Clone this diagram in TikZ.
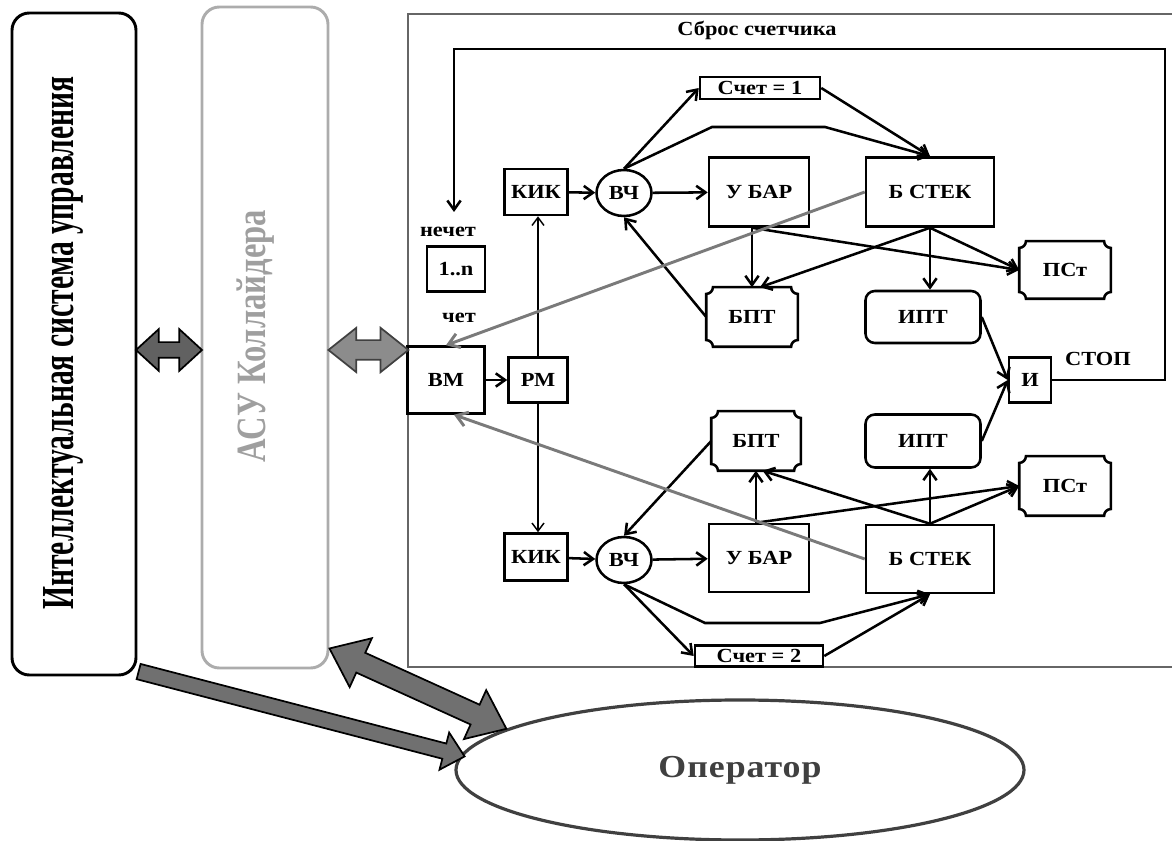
\documentclass[tikz,border=0pt]{standalone}
\usepackage{fontspec}
\setmainfont{Liberation Serif}[FakeStretch=1.12]
\usetikzlibrary{arrows.meta,shapes.geometric,shapes.arrows,calc}

% Blocs a coins creux
\newcommand\plaquebox[1]{%
  \draw[line width=1.9pt] ([xshift=5pt]#1.north west) -- ([xshift=-5pt]#1.north east)
    arc[start angle=180, end angle=270, radius=5pt] -- ([yshift=5pt]#1.south east)
    arc[start angle=90, end angle=180, radius=5pt] -- ([xshift=5pt]#1.south west)
    arc[start angle=0, end angle=90, radius=5pt] -- ([yshift=-5pt]#1.north west)
    arc[start angle=270, end angle=360, radius=5pt] -- cycle;}

\tikzset{
  bloc/.style={draw, line width=1.9pt, inner sep=0pt, font=\bfseries\fontsize{15}{15}\selectfont},
  lbl/.style={inner sep=0pt, font=\bfseries\fontsize{15}{15}\selectfont},
  fl/.style={line width=1.9pt, -{Straight Barb[length=7pt,width=10pt]}},
  flf/.style={line width=1.1pt, -{Straight Barb[length=6pt,width=9pt]}},
  flg/.style={draw=black!52, line width=2.2pt, -{Straight Barb[length=8pt,width=11pt]}},
  dfl/.style={double arrow, draw, line width=1.3pt, inner xsep=0pt},
  sfl/.style={single arrow, draw, line width=1.3pt, inner xsep=0pt, fill=black!56}
}

\begin{document}
\begin{tikzpicture}[x=0.75pt, y=-0.75pt]
		\useasboundingbox (0,0) rectangle (1172,841);

		% Systemes
		\node[draw, line width=2.2pt, rounded corners=13pt, minimum width=93pt, minimum height=496.5pt] at (74,344) (isu) {};
		\node[rotate=90, inner sep=0pt, font=\bfseries] at (63,343) (isuT) {\resizebox{399.75pt}{22.5pt}{Интеллектуальная система управления}};
		\node[draw=gray!65, line width=2.2pt, rounded corners=13pt, minimum width=94.5pt, minimum height=495.75pt] at (265,337.5) (asu) {};
		\node[rotate=90, inner sep=0pt, text=gray!75, font=\bfseries] at (256,336) (asuT) {\resizebox{189pt}{21.5pt}{АСУ Коллайдера}};
		\node[draw=black!60, line width=0.9pt, minimum width=582.75pt, minimum height=489.75pt] at (796.5,340.5) (cadre) {};
		\node[draw=black!75, text=black!75, line width=2.4pt, ellipse, minimum width=426pt, minimum height=105pt,
		      font=\bfseries\fontsize{24}{24}\selectfont\addfontfeatures{LetterSpace=3}] at (740,770) (op) {Оператор};

		% Blocs du haut
		\node[bloc, minimum width=47.25pt, minimum height=34.5pt] at (536,192) (kik1) {КИК};
		\node[bloc, ellipse, minimum width=41.25pt, minimum height=34.5pt] at (624,193) (vch1) {ВЧ};
		\node[bloc, minimum width=75pt, minimum height=51.75pt] at (759,192) (ubar1) {У БАР};
		\node[bloc, minimum width=96pt, minimum height=51.75pt] at (930,192) (stek1) {Б СТЕК};
		\node[bloc, minimum width=90pt, minimum height=16.5pt] at (760,88) (sch1) {Счет = 1};
		\node[bloc, draw=none, minimum width=66.75pt, minimum height=42.75pt] at (752,317) (bpt1) {БПТ};
		\node[bloc, draw=none, minimum width=66.75pt, minimum height=41.25pt] at (1065,270) (pst1) {ПСт};
		\node[bloc, rounded corners=7pt, minimum width=86.25pt, minimum height=39pt] at (923,317) (ipt1) {ИПТ};
		\plaquebox{bpt1}
		\plaquebox{pst1}

		% Blocs du centre
		\node[bloc, minimum width=57.75pt, minimum height=50.25pt] at (446,380) (bm) {ВМ};
		\node[bloc, minimum width=44.25pt, minimum height=33.75pt] at (538,380) (rm) {РМ};
		\node[bloc, minimum width=31.5pt, minimum height=33.75pt] at (1030,380) (and) {И};
		\node[bloc, minimum width=43.5pt, minimum height=33.75pt] at (456,269) (cnt) {1..n};

		% Blocs du bas
		\node[bloc, draw=none, minimum width=65.25pt, minimum height=42.75pt] at (756,441) (bpt2) {БПТ};
		\node[bloc, rounded corners=7pt, minimum width=86.25pt, minimum height=39.75pt] at (923,441) (ipt2) {ИПТ};
		\node[bloc, draw=none, minimum width=66.75pt, minimum height=42.75pt] at (1065,486) (pst2) {ПСт};
		\node[bloc, minimum width=96pt, minimum height=51pt] at (930,559) (stek2) {Б СТЕК};
		\node[bloc, minimum width=47.25pt, minimum height=35.25pt] at (536,557) (kik2) {КИК};
		\node[bloc, ellipse, minimum width=41.25pt, minimum height=34.5pt] at (624,560) (vch2) {ВЧ};
		\node[bloc, minimum width=75pt, minimum height=51pt] at (759,558) (ubar2) {У БАР};
		\node[bloc, minimum width=96pt, minimum height=15.75pt] at (759,656) (sch2) {Счет = 2};
		\plaquebox{bpt2}
		\plaquebox{pst2}

		% Textes
		\node[lbl] at (757,30) (sbros) {Сброс счетчика};
		\node[lbl] at (448,232) (nechet) {нечет};
		\node[lbl] at (459,318) (chet) {чет};
		\node[lbl] at (1098,359) (stop) {СТОП};

		% Liaisons du haut
		\draw[fl] (kik1) -- (vch1);
		\draw[fl] (vch1) -- (ubar1);
		\draw[fl] (vch1.north) -- (sch1.west);
		\draw[fl] (vch1.north) -- (712,127) -- (825,127) -- (stek1.north);
		\draw[fl] (sch1.east) -- (stek1.north);
		\draw[fl] (bpt1.west) -- (vch1.south);
		\draw[fl] (bpt1.north |- ubar1.south) -- (bpt1.north);
		\draw[fl] (bpt1.north |- ubar1.south) -- (pst1.west);
		\draw[fl] (stek1.south) -- (stek1.south |- ipt1.north);
		\draw[fl] (stek1.south) -- (pst1.west);
		\draw[fl] (stek1.south) -- ([xshift=6pt]bpt1.north);
		\draw[fl] (ipt1.east) -- (and.west);

		% Liaisons du centre
		\draw[fl] (bm) -- (rm);
		\draw[flf] (rm.north) -- (rm.north |- kik1.south);
		\draw[flf] (rm.south) -- (rm.south |- kik2.north);
		\coordinate (reset) at (454,212);
		\draw[fl] (and.east) -| (1165,49) -| (reset);

		% Liaisons du bas
		\draw[fl] (kik2) -- (vch2);
		\draw[fl] (vch2) -- (ubar2);
		\draw[fl] (vch2.south) -- (sch2.west);
		\draw[fl] (vch2.south) -- (705,623) -- (820,623) -- (stek2.south);
		\draw[fl] (sch2.east) -- (stek2.south);
		\draw[fl] (bpt2.west) -- (vch2.north);
		\draw[fl] (bpt2.south |- ubar2.north) -- (bpt2.south);
		\draw[fl] (bpt2.south |- ubar2.north) -- (pst2.west);
		\draw[fl] (stek2.north) -- (stek2.north |- ipt2.south);
		\draw[fl] (stek2.north) -- (pst2.west);
		\draw[fl] (stek2.north) -- ([xshift=5pt]bpt2.south);
		\draw[fl] (ipt2.east) -- (and.west);

		% Retours vers VM
		\draw[flg] (stek1.west) -- (bm.north);
		\draw[flg] (stek2.west) -- ([xshift=6pt]bm.south);

		% Grosses fleches
		\coordinate (niv) at (0,350);
		\coordinate (depart) at ($(isu.south east)+(-3,-6)$);
		\node[dfl, fill=black!62, inner ysep=5.25pt, minimum height=49.5pt, double arrow head extend=9.75pt, double arrow tip angle=85]
		      at ($(isu.east |- niv)!0.5!(asu.west |- niv)$) (f1) {};
		\node[dfl, fill=black!45, draw=black!75, inner ysep=6.75pt, minimum height=60pt, double arrow head extend=9.25pt, double arrow tip angle=77]
		      at ($(asu.east |- niv)!0.5!(cadre.west |- niv)$) (f2) {};
		\path let \p1=($(op.177)-(depart)$), \n1={atan2(\y1,\x1)}, \n2={veclen(\x1,\y1)} in
		      node[sfl, rotate=\n1, inner ysep=5.25pt, minimum height=\n2, single arrow head extend=8.5pt, single arrow tip angle=85]
		      at ($(depart)!0.5!(op.177)$) (f3) {};
		\path let \p1=($(op.170)-(asu.south east)+(0,21)$), \n1={atan2(\y1,\x1)}, \n2={veclen(\x1,\y1)} in
		      node[dfl, fill=black!56, rotate=\n1, inner ysep=7.5pt, minimum height=\n2, double arrow head extend=12pt, double arrow tip angle=76]
		      at ($($(asu.south east)+(0,-21)$)!0.5!(op.170)$) (f4) {};
\end{tikzpicture}
\end{document}
